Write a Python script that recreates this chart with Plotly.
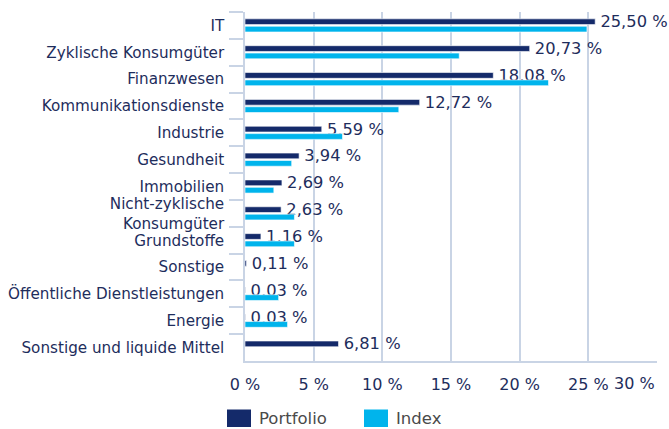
import plotly.graph_objects as go

categories = ["IT", "Zyklische Konsumgüter", "Finanzwesen", "Kommunikationsdienste",
              "Industrie", "Gesundheit", "Immobilien", "Nicht-zyklische<br>Konsumgüter",
              "Grundstoffe", "Sonstige", "Öffentliche Dienstleistungen", "Energie",
              "Sonstige und liquide Mittel"]
portfolio = [25.50, 20.73, 18.08, 12.72, 5.59, 3.94, 2.69, 2.63, 1.16, 0.11, 0.03, 0.03, 6.81]
index_vals = [24.9, 15.6, 22.1, 11.2, 7.1, 3.4, 2.1, 3.6, 3.6, 0.0, 2.45, 3.1, 0.0]
portfolio_labels = ["25,50 %", "20,73 %", "18,08 %", "12,72 %", "5,59 %", "3,94 %", "2,69 %",
                    "2,63 %", "1,16 %", "0,11 %", "0,03 %", "0,03 %", "6,81 %"]
x_tickvals = [0, 5, 10, 15, 20, 25]
x_ticktext = ["0 %", "5 %", "10 %", "15 %", "20 %", "25 %"]
x_last_tick = 30
x_last_text = "30 %"
series_names = ["Portfolio", "Index"]

NAVY = "#142a6a"
CYAN = "#00b4ec"
TEXT = "#1e2d5c"
GRID = "#c9d4e5"
FONT = "DejaVu Sans"

fig = go.Figure()
fig.add_trace(go.Bar(
    y=categories, x=portfolio, orientation="h", name=series_names[0],
    marker=dict(color=NAVY, line=dict(color="white", width=0.6)),
    text=["\u00a0" + t for t in portfolio_labels], textposition="outside",
    constraintext="none", cliponaxis=False,
    textfont=dict(family=FONT, size=16.3, color=TEXT),
))
fig.add_trace(go.Bar(
    y=categories, x=index_vals, orientation="h", name=series_names[1],
    marker=dict(color=CYAN, line=dict(color="white", width=0.6)),
))

fig.update_layout(
    width=669, height=429,
    margin=dict(l=245, r=12, t=12, b=68),
    paper_bgcolor="white", plot_bgcolor="white",
    barmode="group", bargap=0.45, bargroupgap=0.22,
    showlegend=False,
    font=dict(family=FONT, size=15, color=TEXT),
)
fig.update_xaxes(
    range=[0, x_last_tick], tickvals=x_tickvals + [x_last_tick], ticktext=x_ticktext + [""],
    showgrid=True, gridcolor=GRID, gridwidth=1.5,
    showline=True, linecolor=GRID, linewidth=1.5,
    ticks="outside", ticklen=8, tickcolor="rgba(0,0,0,0)",
    tickfont=dict(family=FONT, size=16, color=TEXT), zeroline=False,
    automargin=False,
)
fig.update_yaxes(
    autorange="reversed", type="category",
    showline=True, linecolor=GRID, linewidth=1.5,
    ticks="outside", tickson="boundaries", ticklen=14, tickcolor=GRID, tickwidth=1.5,
    ticklabelstandoff=16,
    tickfont=dict(family=FONT, size=15.2, color=TEXT),
    automargin=False,
)

# last x tick label, right-aligned to the axis end as in the reference
fig.add_annotation(x=x_last_tick, xref="x", y=0, yref="paper", yshift=-22.5,
                   text=x_last_text, showarrow=False, xanchor="right", yanchor="middle",
                   font=dict(family=FONT, size=16, color=TEXT))

# custom legend with large swatches
H = 349.0
def py(pix):
    return (H - (pix - 12)) / H

legend_items = [(series_names[0], NAVY, 227), (series_names[1], CYAN, 364)]
for name, color, px in legend_items:
    fig.add_shape(type="rect", xref="paper", yref="paper",
                  x0=(px - 245) / 412, x1=(px + 24 - 245) / 412,
                  y0=py(427), y1=py(409.5),
                  fillcolor=color, line=dict(width=0), layer="above")
    fig.add_annotation(xref="paper", yref="paper", x=(px + 31 - 245) / 412,
                       y=py(429), text=name, showarrow=False, borderpad=0,
                       xanchor="left", yanchor="bottom",
                       font=dict(family=FONT, size=16.5, color="#4a4a4a"))

fig.write_html("out.html")
